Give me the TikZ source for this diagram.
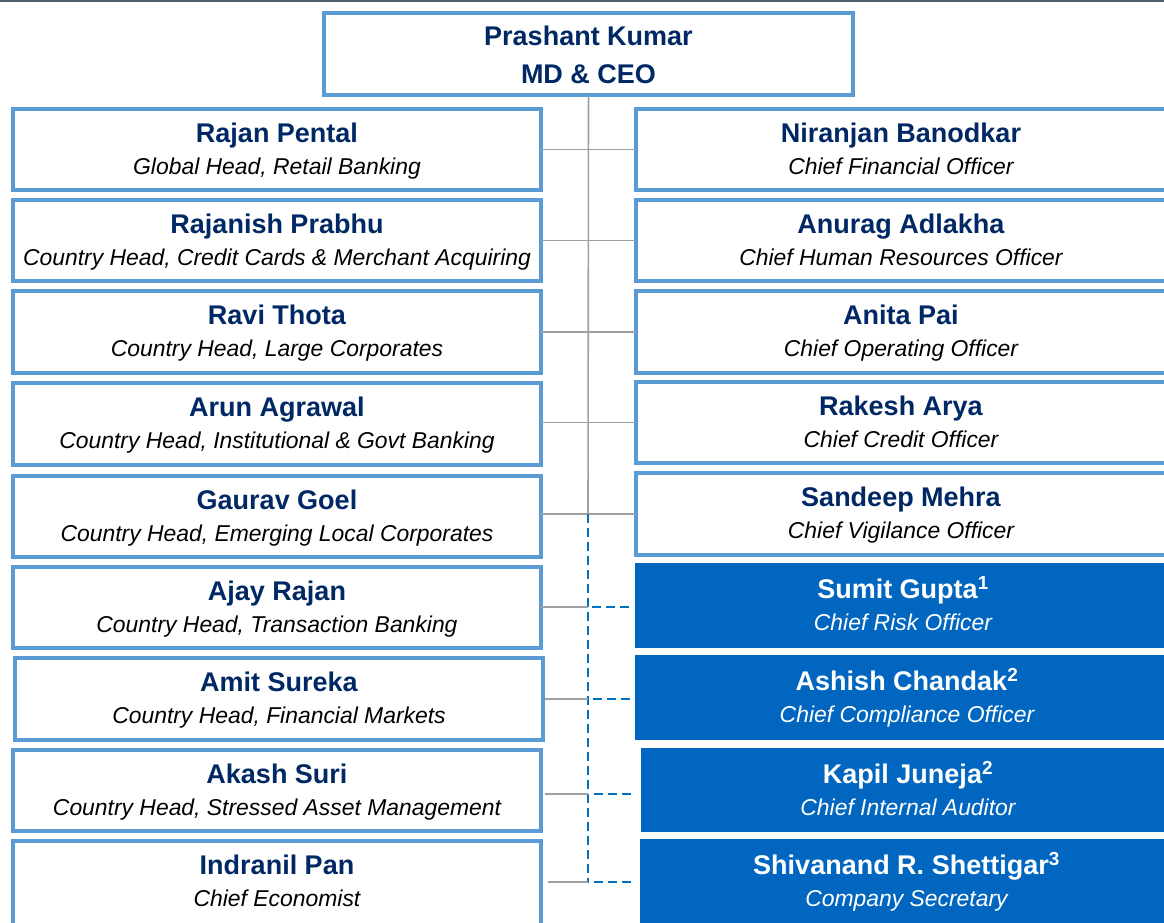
\documentclass[tikz,border=0pt]{standalone}
\usepackage{fontspec}
\setmainfont{Liberation Sans}
\definecolor{navy}{RGB}{0,40,100}
\definecolor{boxline}{RGB}{91,155,213}
\definecolor{boxfill}{RGB}{0,102,191}
\definecolor{dashblue}{RGB}{0,112,192}
\definecolor{conngray}{RGB}{160,160,160}
\definecolor{topgray}{RGB}{80,95,110}
\tikzset{
  outl/.style={draw=boxline, line width=4pt, fill=white, inner sep=0pt, outer sep=0pt},
  filled/.style={draw=none, fill=boxfill, inner sep=0pt, outer sep=0pt},
  outl name/.style={inner sep=0pt, anchor=base, text=navy, font=\fontsize{27}{30}\selectfont\bfseries},
  outl role/.style={inner sep=0pt, anchor=base, text=black, font=\fontsize{22.9}{26}\selectfont\itshape},
  filled name/.style={inner sep=0pt, anchor=base, text=white, font=\fontsize{27}{30}\selectfont\bfseries},
  filled role/.style={inner sep=0pt, anchor=base, text=white, font=\fontsize{22.9}{26}\selectfont\itshape},
  conn/.style={draw=conngray, line width=1.6pt},
  dconn/.style={draw=dashblue, line width=2.6pt, dash pattern=on 9pt off 5pt},
}
\newcommand\orgbox[8]{%
  \node[#1, minimum width={#5-#3-4}, minimum height={#6-#4-4}] (#2) at ({(#3+#5)/2},{(#4+#6)/2}) {};
  \node[#1 name] (#2-n) at ({(#3+#5)/2},{#4+35.5}) {#7};
  \node[#1 role] (#2-r) at ({(#3+#5)/2},{#4+67.5}) {#8};
}
\newcommand\fillbox[8]{%
  \node[#1, minimum width={#5-#3}, minimum height={#6-#4}] (#2) at ({(#3+#5)/2},{(#4+#6)/2}) {};
  \node[#1 name] (#2-n) at ({(#3+#5)/2},{#4+35.5}) {#7};
  \node[#1 role] (#2-r) at ({(#3+#5)/2},{#4+67.5}) {#8};
}
\begin{document}
\begin{tikzpicture}[x=1pt,y=-1pt]
\useasboundingbox (0,0) rectangle (1164,923);
\clip (0,0) rectangle (1164,923);
\draw[topgray, line width=2.5pt] (0,1) -- (1164,1);
% CEO
\node[outl, minimum width=529, minimum height=82] (ceo) at (588.5,54) {};
\node[outl name] (ceo-n) at (588.5,45.5) {Prashant Kumar};
\node[outl name] (ceo-r) at (588.5,83.5) {MD \& CEO};
% left column
\orgbox{outl}{L1}{11}{107}{543}{192}{Rajan Pental}{Global Head, Retail Banking}
\orgbox{outl}{L2}{11}{198}{543}{283}{Rajanish Prabhu}{Country Head, Credit Cards \& Merchant Acquiring}
\orgbox{outl}{L3}{11}{289}{543}{375}{Ravi Thota}{Country Head, Large Corporates}
\orgbox{outl}{L4}{11}{381}{543}{467}{Arun Agrawal}{Country Head, Institutional \& Govt Banking}
\orgbox{outl}{L5}{11}{474}{543}{559}{Gaurav Goel}{Country Head, Emerging Local Corporates}
\orgbox{outl}{L6}{11}{565}{543}{650}{Ajay Rajan}{Country Head, Transaction Banking}
\orgbox{outl}{L7}{13}{656}{545}{742}{Amit Sureka}{Country Head, Financial Markets}
\orgbox{outl}{L8}{11}{748}{543}{833}{Akash Suri}{Country Head, Stressed Asset Management}
\orgbox{outl}{L9}{11}{839}{543}{928}{Indranil Pan}{Chief Economist}
% right column
\orgbox{outl}{R1}{634}{107}{1168}{192}{Niranjan Banodkar}{Chief Financial Officer}
\orgbox{outl}{R2}{634}{198}{1168}{283}{Anurag Adlakha}{Chief Human Resources Officer}
\orgbox{outl}{R3}{634}{289}{1168}{375}{Anita Pai}{Chief Operating Officer}
\orgbox{outl}{R4}{634}{380}{1168}{465}{Rakesh Arya}{Chief Credit Officer}
\orgbox{outl}{R5}{634}{471}{1168}{557}{Sandeep Mehra}{Chief Vigilance Officer}
\fillbox{filled}{R6}{635}{563}{1171}{648}{Sumit Gupta\textsuperscript{1}}{Chief Risk Officer}
\fillbox{filled}{R7}{635}{655}{1179}{740}{Ashish Chandak\textsuperscript{2}}{Chief Compliance Officer}
\fillbox{filled}{R8}{641}{748}{1175}{832}{Kapil Juneja\textsuperscript{2}}{Chief Internal Auditor}
\fillbox{filled}{R9}{640}{839}{1173}{930}{Shivanand R. Shettigar\textsuperscript{3}}{Company Secretary}
% trunk coordinates
\coordinate (tj) at (588,514);
\coordinate (tb) at (588,883);
\coordinate (h6) at (588,607);
\coordinate (h7) at (588,699);
\coordinate (h8) at (588,794);
\coordinate (h9) at (588,882);
% connectors
\draw[conn] (ceo.south) -- (tj);
\draw[conn] (L1.east) -- (R1.west);
\draw[conn] (L2.east) -- (R2.west);
\draw[conn] (L3.east) -- (R3.west);
\draw[conn] (L4.east |- R4.west) -- (R4.west);
\draw[conn] (L5.east |- tj) -- (R5.west |- tj);
\draw[dconn] (tj) -- (tb);
\draw[conn] (L6.east |- h6) -- (h6);
\draw[conn] ([xshift=2pt]L7.east |- h7) -- (h7);
\draw[conn] ([xshift=4pt]L8.east |- h8) -- (h8);
\draw[conn] ([xshift=7pt]L9.east |- h9) -- (h9);
\draw[dconn] ([xshift=4pt]h6) -- ([xshift=-4pt]R6.west |- h6);
\draw[dconn] ([xshift=5pt]h7) -- ([xshift=-3pt]R7.west |- h7);
\draw[dconn] ([xshift=6pt]h8) -- ([xshift=-8pt]R8.west |- h8);
\draw[dconn] ([xshift=6pt]h9) -- ([xshift=-7pt]R9.west |- h9);
\end{tikzpicture}
\end{document}
